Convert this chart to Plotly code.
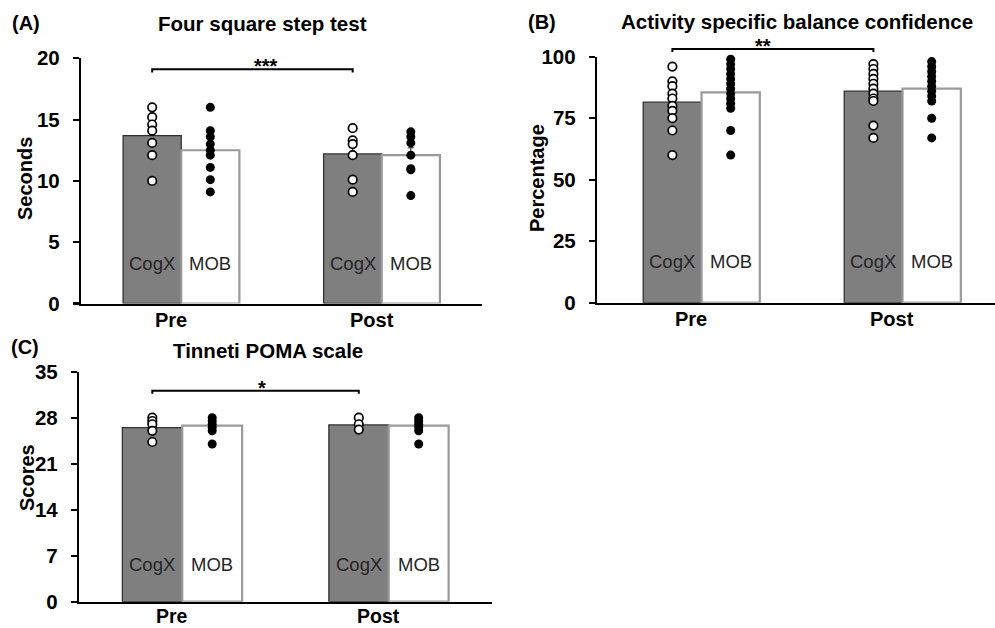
import plotly.graph_objects as go

W, H = 995, 628

categories = ["Pre", "Post"]
groups = ["CogX", "MOB"]

# ---------------- Panel A: Four square step test (seconds) ----------------
a_cogx_mean = [13.7, 12.2]
a_mob_mean = [12.5, 12.1]
a_cogx_err = [0.8, 0.9]
a_mob_err = [0.7, 0.6]
a_cogx_pre = [16.0, 15.2, 14.6, 14.1, 13.1, 12.1, 10.0]
a_mob_pre = [16.0, 14.1, 13.6, 13.0, 12.5, 12.1, 11.1, 10.1, 9.1]
a_cogx_post = [14.3, 13.3, 13.0, 12.1, 10.1, 9.1]
a_mob_post = [14.0, 13.6, 13.1, 12.1, 11.0, 10.9, 8.8]
a_ticks = [0, 5, 10, 15, 20]

# ---------------- Panel B: Activity specific balance confidence (%) -------
b_cogx_mean = [81.5, 86.0]
b_mob_mean = [85.5, 87.0]
b_cogx_err = [3.0, 2.8]
b_mob_err = [3.0, 2.8]
b_cogx_pre = [96, 90, 88, 85, 83, 80, 78, 75, 70, 60]
b_mob_pre = [99, 97, 95, 93, 91, 89, 87, 85, 83, 81, 79, 70, 60]
b_cogx_post = [97, 95, 93, 91, 89, 87, 85, 83, 82, 72, 67]
b_mob_post = [98, 96, 94, 92, 90, 88, 86, 84, 82, 75, 67]
b_ticks = [0, 25, 50, 75, 100]

# ---------------- Panel C: Tinneti POMA scale (scores) --------------------
c_cogx_mean = [26.5, 26.9]
c_mob_mean = [26.8, 26.8]
c_cogx_err = [0.5, 0.3]
c_mob_err = [0.4, 0.4]
c_cogx_pre = [28.0, 27.5, 27.0, 26.0, 24.3]
c_mob_pre = [28.0, 27.5, 27.0, 26.5, 26.0, 24.0]
c_cogx_post = [28.0, 27.0, 26.2]
c_mob_post = [28.0, 27.5, 27.0, 26.5, 26.0, 24.0]
c_ticks = [0, 7, 14, 21, 28, 35]

titles = ["Four square step test", "Activity specific balance confidence", "Tinneti POMA scale"]
letters = ["(A)", "(B)", "(C)"]
ylabels = ["Seconds", "Percentage", "Scores"]
sig = ["***", "**", "*"]

FONT = "Liberation Sans, Arial, sans-serif"
BAR_W = 0.29
GRAY = "#7f7f7f"


def px(x):
    return x / W


def py(y):
    return 1 - y / H


panels = [
    dict(xa="x", ya="y", xdom=(81, 482), ydom=(58.3, 303.5), xr=(-0.5, 1.5), yr=(0, 20),
         ticks=a_ticks, cm=a_cogx_mean, mm=a_mob_mean, ce=a_cogx_err, me=a_mob_err,
         pts=[[a_cogx_pre, a_cogx_post], [a_mob_pre, a_mob_post]],
         brk=19.1, brk_drop=0.25, title_xy=(262, 23), letter_xy=(26, 23), ylab_xy=(25, 179),
         lab_shift=40, cat_shift=-16.5, cat_size=20),
    dict(xa="x2", ya="y2", xdom=(597, 995), ydom=(56.7, 302.7), xr=(-0.52, 1.46), yr=(0, 100),
         ticks=b_ticks, cm=b_cogx_mean, mm=b_mob_mean, ce=b_cogx_err, me=b_mob_err,
         pts=[[b_cogx_pre, b_cogx_post], [b_mob_pre, b_mob_post]],
         brk=103.1, brk_drop=1.2, title_xy=(797, 22), letter_xy=(542, 22), ylab_xy=(537, 178),
         lab_shift=41, cat_shift=-16.5, cat_size=20),
    dict(xa="x3", ya="y3", xdom=(79, 492), ydom=(371.7, 601.7), xr=(-0.5, 1.5), yr=(0, 35),
         ticks=c_ticks, cm=c_cogx_mean, mm=c_mob_mean, ce=c_cogx_err, me=c_mob_err,
         pts=[[c_cogx_pre, c_cogx_post], [c_mob_pre, c_mob_post]],
         brk=32.1, brk_drop=0.45, title_xy=(268, 350), letter_xy=(25, 347), ylab_xy=(27, 478),
         lab_shift=37, cat_shift=-14.5, cat_size=19.5),
]

fig = go.Figure()
shapes = []
annotations = []
cat_idx = list(range(len(categories)))

for k, p in enumerate(panels):
    xa, ya = p["xa"], p["ya"]
    # bars
    fig.add_trace(go.Bar(
        x=cat_idx, y=p["cm"], width=BAR_W, offset=-BAR_W, xaxis=xa, yaxis=ya,
        marker=dict(color=GRAY, line=dict(color="#303030", width=1.3)),
        error_y=dict(type="data", symmetric=False, array=p["ce"], arrayminus=[0] * len(cat_idx),
                     color="#222", thickness=1, width=3),
        showlegend=False, hoverinfo="skip"))
    fig.add_trace(go.Bar(
        x=cat_idx, y=p["mm"], width=BAR_W, offset=0, xaxis=xa, yaxis=ya,
        marker=dict(color="white", line=dict(color="#9a9a9a", width=2.2)),
        error_y=dict(type="data", symmetric=False, array=p["me"], arrayminus=[0] * len(cat_idx),
                     color="#222", thickness=1, width=3),
        showlegend=False, hoverinfo="skip"))
    # individual points
    for g, sign in enumerate([-1, 1]):
        xs, ys = [], []
        for ci in cat_idx:
            vals = p["pts"][g][ci]
            xs += [ci + sign * BAR_W / 2] * len(vals)
            ys += vals
        if g == 0:
            mk = dict(color="white", size=8.5, line=dict(color="black", width=1.7))
        else:
            mk = dict(color="black", size=9, line=dict(color="black", width=0))
        fig.add_trace(go.Scatter(x=xs, y=ys, mode="markers", marker=mk, xaxis=xa, yaxis=ya,
                                 cliponaxis=False, showlegend=False, hoverinfo="skip"))

    # axes
    axn = "" if k == 0 else str(k + 1)
    x0, x1 = p["xdom"]
    ytop, ybot = p["ydom"]
    fig.layout["xaxis" + axn] = dict(
        domain=[px(x0), px(x1)], range=list(p["xr"]), anchor=ya, automargin=False,
        tickvals=cat_idx, showticklabels=False,
        showline=True, linecolor="black", linewidth=2.2, ticks="",
        showgrid=False, zeroline=False, fixedrange=True)
    fig.layout["yaxis" + axn] = dict(
        domain=[py(ybot), py(ytop)], range=list(p["yr"]), anchor=xa, automargin=False,
        tickvals=p["ticks"], showline=True, linecolor="black", linewidth=2.2,
        ticks="outside", ticklen=6, tickwidth=2.2, tickcolor="black",
        showgrid=False, zeroline=False, fixedrange=True,
        tickfont=dict(family=FONT, size=20.5, color="black", weight="bold"),
        ticklabelstandoff=9)

    # category labels under the axis
    for ci in cat_idx:
        annotations.append(dict(x=ci - 0.05, y=0, xref=xa, yref=ya + " domain",
                                text=categories[ci], showarrow=False, yanchor="middle",
                                yshift=p["cat_shift"],
                                font=dict(family=FONT, size=p["cat_size"], color="black",
                                          weight="bold")))

    # helpers data -> paper
    def dx(v, p=p):
        a, b = p["xr"]
        d0, d1 = px(p["xdom"][0]), px(p["xdom"][1])
        return d0 + (v - a) / (b - a) * (d1 - d0)

    def dy(v, p=p):
        a, b = p["yr"]
        d0, d1 = py(p["ydom"][1]), py(p["ydom"][0])
        return d0 + (v - a) / (b - a) * (d1 - d0)

    # significance bracket between CogX Pre and CogX Post
    bx0 = cat_idx[0] - BAR_W / 2
    bx1 = cat_idx[1] - BAR_W / 2
    yb, yd = p["brk"], p["brk"] - p["brk_drop"]
    path = "M {} {} L {} {} L {} {} L {} {}".format(
        dx(bx0), dy(yd), dx(bx0), dy(yb), dx(bx1), dy(yb), dx(bx1), dy(yd))
    shapes.append(dict(type="path", xref="paper", yref="paper", path=path,
                       line=dict(color="black", width=2)))
    annotations.append(dict(x=dx((bx0 + bx1) / 2), y=dy(yb), xref="paper", yref="paper",
                            text=sig[k], showarrow=False, yanchor="middle", yshift=3,
                            font=dict(family=FONT, size=20, color="black", weight="bold")))

    # group labels inside bars
    for ci in cat_idx:
        for g, sign in enumerate([-1, 1]):
            annotations.append(dict(x=ci + sign * BAR_W / 2, y=0, xref=xa, yref=ya + " domain",
                                    text=groups[g], showarrow=False, yanchor="middle",
                                    yshift=p["lab_shift"],
                                    font=dict(family=FONT, size=18.5, color="#262626")))

    # titles, letters, y labels
    tx, ty = p["title_xy"]
    annotations.append(dict(x=px(tx), y=py(ty), xref="paper", yref="paper", text=titles[k],
                            showarrow=False, xanchor="center", yanchor="middle",
                            font=dict(family=FONT, size=20.5, color="black", weight="bold")))
    lx, ly = p["letter_xy"]
    annotations.append(dict(x=px(lx), y=py(ly), xref="paper", yref="paper", text=letters[k],
                            showarrow=False, xanchor="center", yanchor="middle",
                            font=dict(family=FONT, size=20, color="black", weight="bold")))
    yx, yy = p["ylab_xy"]
    annotations.append(dict(x=px(yx), y=py(yy), xref="paper", yref="paper", text=ylabels[k],
                            showarrow=False, xanchor="center", yanchor="middle", textangle=-90,
                            font=dict(family=FONT, size=20, color="black", weight="bold")))

fig.update_layout(
    width=W, height=H, margin=dict(l=0, r=0, t=0, b=0, pad=0, autoexpand=False),
    paper_bgcolor="white", plot_bgcolor="rgba(0,0,0,0)",
    barmode="overlay", showlegend=False,
    shapes=shapes, annotations=annotations,
    font=dict(family=FONT, color="black"),
)

fig.write_html("out.html", config={"displayModeBar": False, "staticPlot": True},
               post_script="document.body.style.margin='0';document.body.style.overflow='hidden';")
